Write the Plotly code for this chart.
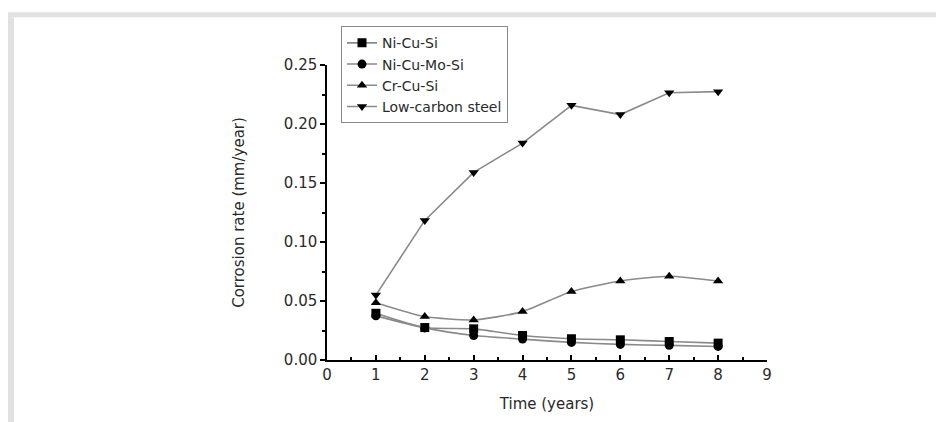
import plotly.graph_objects as go

years = [1, 2, 3, 4, 5, 6, 7, 8]
ni_cu_si = [0.0396, 0.0275, 0.0264, 0.0208, 0.0180, 0.0171, 0.0157, 0.0143]
ni_cu_mo_si = [0.0374, 0.0272, 0.0208, 0.0177, 0.0149, 0.0132, 0.0124, 0.0115]
cr_cu_si = [0.0486, 0.0368, 0.0340, 0.0410, 0.0580, 0.0670, 0.0710, 0.0669]
low_carbon = [0.0550, 0.1183, 0.1590, 0.1838, 0.2158, 0.2080, 0.2265, 0.2274]

x_ticks = [0, 1, 2, 3, 4, 5, 6, 7, 8, 9]
y_ticks = [0.0, 0.05, 0.10, 0.15, 0.20, 0.25]
y_tick_text = ["0.00", "0.05", "0.10", "0.15", "0.20", "0.25"]

FONT = "DejaVu Sans"
LINE = "#8a8a8a"
TXT = "#2a2a2a"

series = [
    ("Ni-Cu-Si", ni_cu_si, "square", "spline"),
    ("Ni-Cu-Mo-Si", ni_cu_mo_si, "circle", "spline"),
    ("Cr-Cu-Si", cr_cu_si, "triangle-up", "spline"),
    ("Low-carbon steel", low_carbon, "triangle-down", "linear"),
]

fig = go.Figure()
for name, vals, sym, shape in series:
    fig.add_trace(go.Scatter(
        x=years, y=vals, name=name, mode="lines+markers",
        line=dict(color=LINE, width=1.6, shape=shape, smoothing=0.6),
        marker=dict(symbol=sym, size=9, color="black"),
    ))

# page frame (decorative gray border)
L, R, T, B = 327, 767, 65, 362
W, H = R - L, B - T
def px(x):
    return (x - L) / W
def py(y):
    return (B - y) / H

shapes = [
    dict(type="rect", xref="paper", yref="paper", x0=px(8), x1=px(936), y0=py(17), y1=py(12),
         fillcolor="#e1e1e1", line=dict(width=0), layer="below"),
    dict(type="rect", xref="paper", yref="paper", x0=px(8), x1=px(14), y0=py(430), y1=py(17),
         fillcolor="#e1e1e1", line=dict(width=0), layer="below"),
]

fig.update_layout(
    width=936, height=422,
    margin=dict(l=L, r=936 - R, t=T, b=422 - B),
    paper_bgcolor="white", plot_bgcolor="white",
    font=dict(family=FONT, size=15, color=TXT),
    shapes=shapes,
    showlegend=True,
    legend=dict(
        x=px(341), y=py(26), xanchor="left", yanchor="top",
        bordercolor="#888888", borderwidth=1, bgcolor="white",
        font=dict(family=FONT, size=14, color=TXT),
        tracegroupgap=0, itemwidth=30,
    ),
    xaxis=dict(
        range=[0, 9], tickvals=x_ticks, showgrid=False, zeroline=False,
        showline=True, linecolor="black", linewidth=1.5,
        ticks="inside", ticklen=5, tickwidth=1.5, tickcolor="black",
        minor=dict(dtick=0.5, ticks="inside", ticklen=3, tickwidth=1.5, tickcolor="black", showgrid=False),
        title=dict(text="Time (years)", font=dict(size=15), standoff=16),
        tickfont=dict(size=15),
    ),
    yaxis=dict(
        range=[0, 0.25], tickvals=y_ticks, ticktext=y_tick_text, showgrid=False, zeroline=False,
        showline=True, linecolor="black", linewidth=1.5,
        ticks="outside", ticklen=5, tickwidth=1.5, tickcolor="black",
        minor=dict(dtick=0.025, ticks="outside", ticklen=3, tickwidth=1.5, tickcolor="black", showgrid=False),
        title=dict(text="Corrosion rate (mm/year)", font=dict(size=15), standoff=36),
        tickfont=dict(size=15),
    ),
)

fig.write_html("out.html")
